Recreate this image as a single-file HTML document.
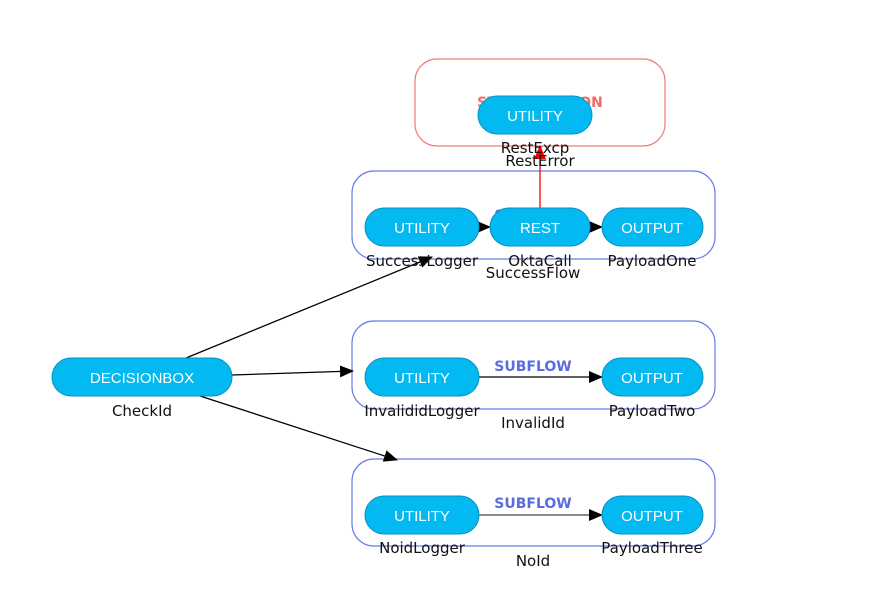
<!DOCTYPE html>
<html><head><meta charset="utf-8"><style>
html,body{margin:0;padding:0;background:#fff;}
svg{display:block;font-family:"Liberation Sans",sans-serif;}
.pill{fill:#03b9f2;stroke:#0a8fbf;stroke-width:1;}
.pt{fill:#fff;font-size:15px;text-anchor:middle;}
.lb{fill:#111;font-size:15px;text-anchor:middle;font-family:"DejaVu Sans",sans-serif;}
.sf{fill:#5b6be0;font-size:14px;font-weight:bold;text-anchor:middle;font-family:"DejaVu Sans",sans-serif;}
</style></head><body>
<svg width="883" height="611" viewBox="0 0 883 611">
<defs>
<marker id="ab" markerWidth="14" markerHeight="12" refX="13" refY="6" orient="auto" markerUnits="userSpaceOnUse"><path d="M0,0 L14,6 L0,12 z" fill="#000"/></marker>
<marker id="ar" markerWidth="14" markerHeight="12" refX="13" refY="6" orient="auto" markerUnits="userSpaceOnUse"><path d="M0,0 L14,6 L0,12 z" fill="#f00"/></marker>
</defs>
<rect x="415" y="59" width="250" height="87" rx="22" fill="none" stroke="#f27a7a" stroke-width="1.2"/>
<text x="540" y="107" fill="#f06a6a" font-size="14" font-weight="bold" text-anchor="middle" font-family="DejaVu Sans, sans-serif">STEP FUNCTION</text>
<rect x="352" y="171" width="363" height="88" rx="22" fill="none" stroke="#6b7ae8" stroke-width="1.2"/>
<text x="533" y="220" class="sf">SUBFLOW</text>
<rect x="352" y="321" width="363" height="88" rx="22" fill="none" stroke="#6b7ae8" stroke-width="1.2"/>
<text x="533" y="371" class="sf">SUBFLOW</text>
<rect x="352" y="459" width="363" height="87" rx="22" fill="none" stroke="#6b7ae8" stroke-width="1.2"/>
<text x="533" y="508" class="sf">SUBFLOW</text>
<line x1="186" y1="358" x2="432" y2="257" stroke="#000" stroke-width="1.3" marker-end="url(#ab)"/>
<line x1="232" y1="375" x2="353" y2="371" stroke="#000" stroke-width="1.3" marker-end="url(#ab)"/>
<line x1="200" y1="396" x2="397" y2="460" stroke="#000" stroke-width="1.3" marker-end="url(#ab)"/>
<line x1="540" y1="208" x2="540" y2="146" stroke="#f00" stroke-width="1.3" marker-end="url(#ar)"/>
<line x1="479" y1="227" x2="490" y2="227" stroke="#000" stroke-width="1.3" marker-end="url(#ab)"/>
<line x1="590" y1="227" x2="602" y2="227" stroke="#000" stroke-width="1.3" marker-end="url(#ab)"/>
<line x1="479" y1="377" x2="602" y2="377" stroke="#000" stroke-width="1.3" marker-end="url(#ab)"/>
<line x1="479" y1="515" x2="602" y2="515" stroke="#444" stroke-width="1.3" marker-end="url(#ab)"/>

<rect class="pill" x="52" y="358" width="180" height="38" rx="19"/><text class="pt" x="142" y="383">DECISIONBOX</text>
<text class="lb" x="142" y="416">CheckId</text>

<rect class="pill" x="478" y="96" width="114" height="38" rx="19"/><text class="pt" x="535" y="121">UTILITY</text>
<text class="lb" x="535" y="153">RestExcp</text>
<text class="lb" x="540" y="166">RestError</text>

<rect class="pill" x="365" y="208" width="114" height="38" rx="19"/><text class="pt" x="422" y="233">UTILITY</text>
<rect class="pill" x="490" y="208" width="100" height="38" rx="19"/><text class="pt" x="540" y="233">REST</text>
<rect class="pill" x="602" y="208" width="101" height="38" rx="19"/><text class="pt" x="652" y="233">OUTPUT</text>
<text class="lb" x="422" y="266">SuccessLogger</text>
<text class="lb" x="540" y="266">OktaCall</text>
<text class="lb" x="652" y="266">PayloadOne</text>
<text class="lb" x="533" y="278">SuccessFlow</text>

<rect class="pill" x="365" y="358" width="114" height="38" rx="19"/><text class="pt" x="422" y="383">UTILITY</text>
<rect class="pill" x="602" y="358" width="101" height="38" rx="19"/><text class="pt" x="652" y="383">OUTPUT</text>
<text class="lb" x="422" y="416">InvalididLogger</text>
<text class="lb" x="652" y="416">PayloadTwo</text>
<text class="lb" x="533" y="428">InvalidId</text>

<rect class="pill" x="365" y="496" width="114" height="38" rx="19"/><text class="pt" x="422" y="521">UTILITY</text>
<rect class="pill" x="602" y="496" width="101" height="38" rx="19"/><text class="pt" x="652" y="521">OUTPUT</text>
<text class="lb" x="422" y="553">NoidLogger</text>
<text class="lb" x="652" y="553">PayloadThree</text>
<text class="lb" x="533" y="566">NoId</text>
</svg>
</body></html>
